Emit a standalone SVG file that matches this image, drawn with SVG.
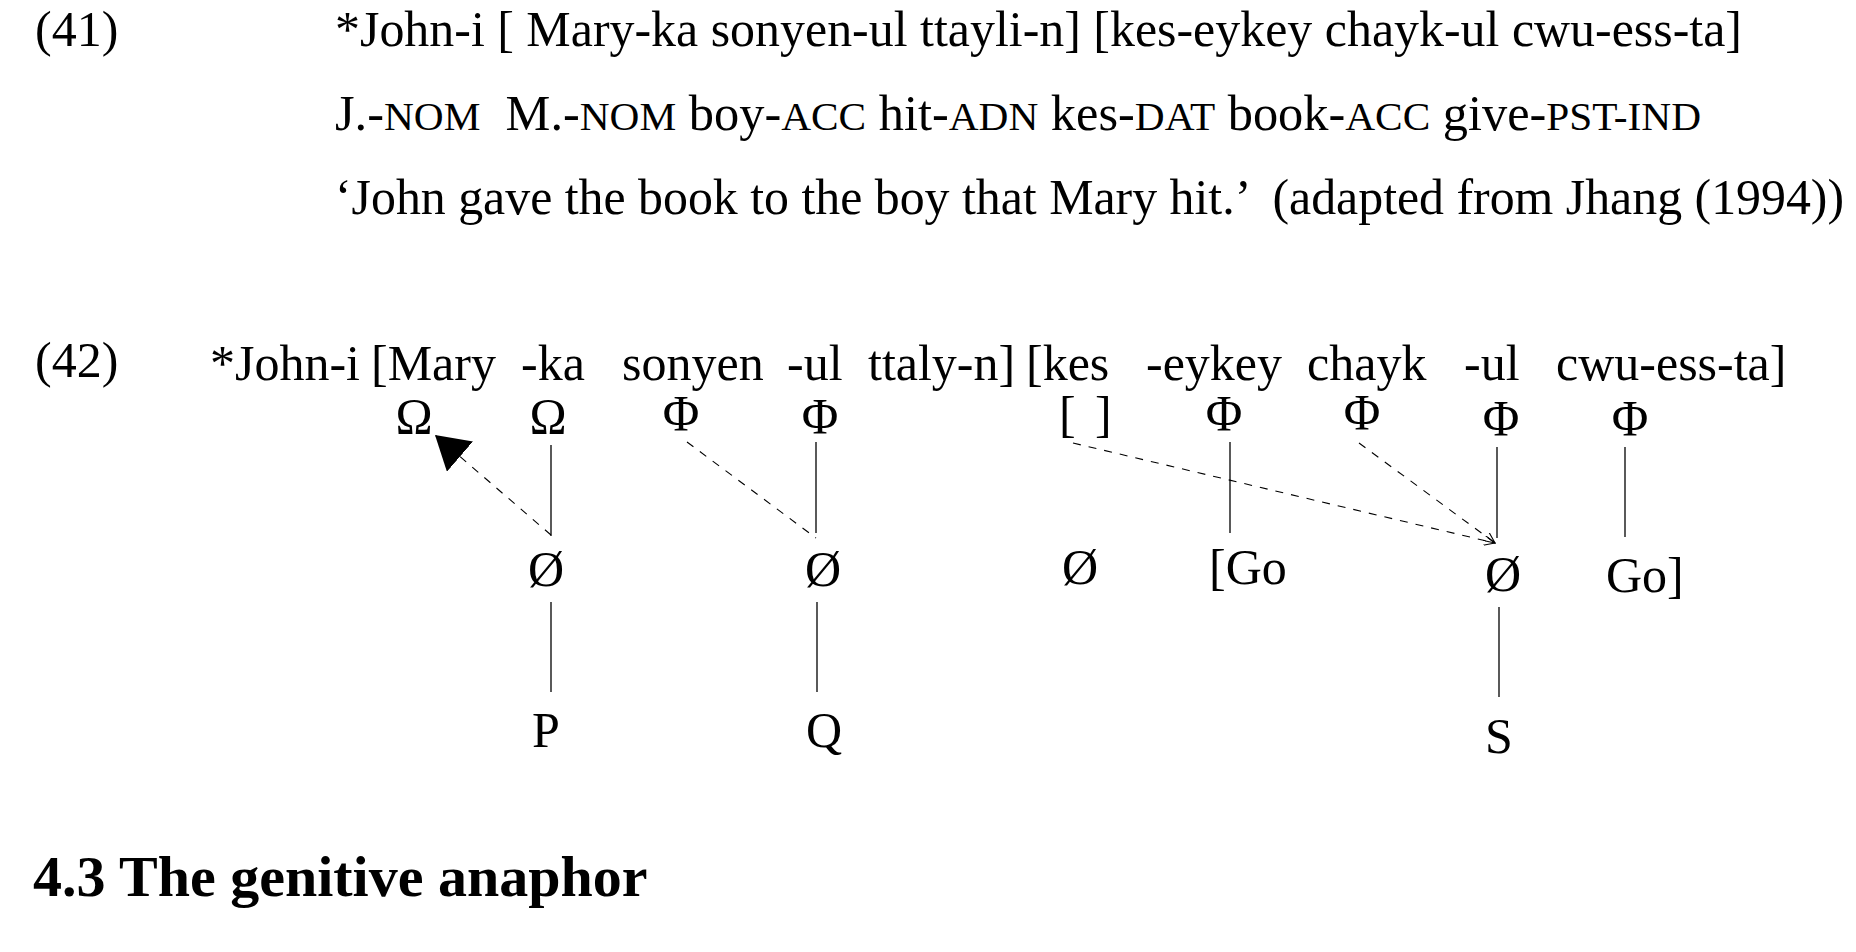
<svg xmlns="http://www.w3.org/2000/svg" width="1856" height="952" viewBox="0 0 1856 952">
<defs>
<style>
text{font-family:"Liberation Serif","Times New Roman",serif;font-size:50px;fill:#000;white-space:pre}
.sc{font-size:41px}
.c{text-anchor:middle}
.h{font-weight:bold;font-size:58px}
.solid{stroke:#000;stroke-width:1.3;fill:none}
.dash{stroke:#000;stroke-width:1.1;fill:none;stroke-dasharray:8 8}
</style>
<marker id="bigArrow" markerUnits="userSpaceOnUse" viewBox="0 0 33 40" refX="33" refY="20" markerWidth="33" markerHeight="40" orient="auto">
<path d="M0,0 L33,20 L0,40 z" fill="#000"/>
</marker>
<marker id="smallArrow" markerUnits="userSpaceOnUse" viewBox="0 0 12 10" refX="11" refY="5" markerWidth="12" markerHeight="10" orient="auto">
<path d="M0,0 L11,5 L0,10" fill="none" stroke="#000" stroke-width="1.1"/>
</marker>
</defs>
<rect width="1856" height="952" fill="#fff"/>

<g id="ex41">
<text x="35" y="46">(41)</text>
<text x="335" y="46" textLength="1407" lengthAdjust="spacingAndGlyphs">*John-i [ Mary-ka sonyen-ul ttayli-n] [kes-eykey chayk-ul cwu-ess-ta]</text>
<text x="335" y="130" xml:space="preserve" textLength="1366" lengthAdjust="spacingAndGlyphs">J.-<tspan class="sc">NOM</tspan>  M.-<tspan class="sc">NOM</tspan> boy-<tspan class="sc">ACC</tspan> hit-<tspan class="sc">ADN</tspan> kes-<tspan class="sc">DAT</tspan> book-<tspan class="sc">ACC</tspan> give-<tspan class="sc">PST-IND</tspan></text>
<text x="335" y="214" xml:space="preserve" textLength="1509" lengthAdjust="spacingAndGlyphs">‘John gave the book to the boy that Mary hit.’  (adapted from Jhang (1994))</text>
</g>

<g id="ex42-label"><text x="35" y="377">(42)</text></g>

<g id="sentence42">
<text x="210" y="380">*John-i</text>
<text x="371" y="380">[Mary</text>
<text x="521" y="380">-ka</text>
<text x="622" y="380">sonyen</text>
<text x="787" y="380">-ul</text>
<text x="868" y="380">ttaly-n]</text>
<text x="1026" y="380">[kes</text>
<text x="1146" y="380">-eykey</text>
<text x="1307" y="380">chayk</text>
<text x="1464" y="380">-ul</text>
<text x="1556" y="380">cwu-ess-ta]</text>
</g>

<g id="n-omega1"><text class="c" x="414" y="433">Ω</text></g>
<g id="n-omega2"><text class="c" x="548" y="433">Ω</text></g>
<g id="n-phi1"><text class="c" x="681" y="430">Φ</text></g>
<g id="n-phi2"><text class="c" x="820" y="433">Φ</text></g>
<g id="n-bracket"><text y="431"><tspan x="1059">[</tspan><tspan x="1095">]</tspan></text></g>
<g id="n-phi3"><text class="c" x="1224" y="430">Φ</text></g>
<g id="n-phi4"><text class="c" x="1362" y="429">Φ</text></g>
<g id="n-phi5"><text class="c" x="1501" y="435">Φ</text></g>
<g id="n-phi6"><text class="c" x="1630" y="435">Φ</text></g>

<g id="n-null1"><text class="c" x="546" y="586">Ø</text></g>
<g id="n-null2"><text class="c" x="823" y="586">Ø</text></g>
<g id="n-null3"><text class="c" x="1080" y="584">Ø</text></g>
<g id="n-go1"><text x="1209" y="584">[Go</text></g>
<g id="n-null4"><text class="c" x="1503" y="591">Ø</text></g>
<g id="n-go2"><text x="1606" y="592">Go]</text></g>

<g id="n-P"><text class="c" x="546" y="747">P</text></g>
<g id="n-Q"><text class="c" x="824" y="747">Q</text></g>
<g id="n-S"><text class="c" x="1499" y="753">S</text></g>

<g id="connectors">
<line class="solid" x1="551" y1="445" x2="551" y2="536"/>
<line class="dash" x1="551" y1="535" x2="435" y2="435" marker-end="url(#bigArrow)"/>
<line class="dash" x1="687" y1="442" x2="816" y2="538"/>
<line class="solid" x1="816" y1="442" x2="816" y2="533"/>
<line class="solid" x1="551" y1="602" x2="551" y2="692"/>
<line class="solid" x1="817" y1="602" x2="817" y2="692"/>
<line class="dash" x1="1073" y1="443" x2="1495" y2="543" marker-end="url(#smallArrow)"/>
<line class="dash" x1="1359" y1="443" x2="1495" y2="543" marker-end="url(#smallArrow)"/>
<line class="solid" x1="1230" y1="442" x2="1230" y2="533"/>
<line class="solid" x1="1497" y1="447" x2="1497" y2="538"/>
<line class="solid" x1="1625" y1="447" x2="1625" y2="537"/>
<line class="solid" x1="1499" y1="607" x2="1499" y2="697"/>
</g>

<g id="heading"><text class="h" x="33" y="896">4.3 The genitive anaphor</text></g>
</svg>
